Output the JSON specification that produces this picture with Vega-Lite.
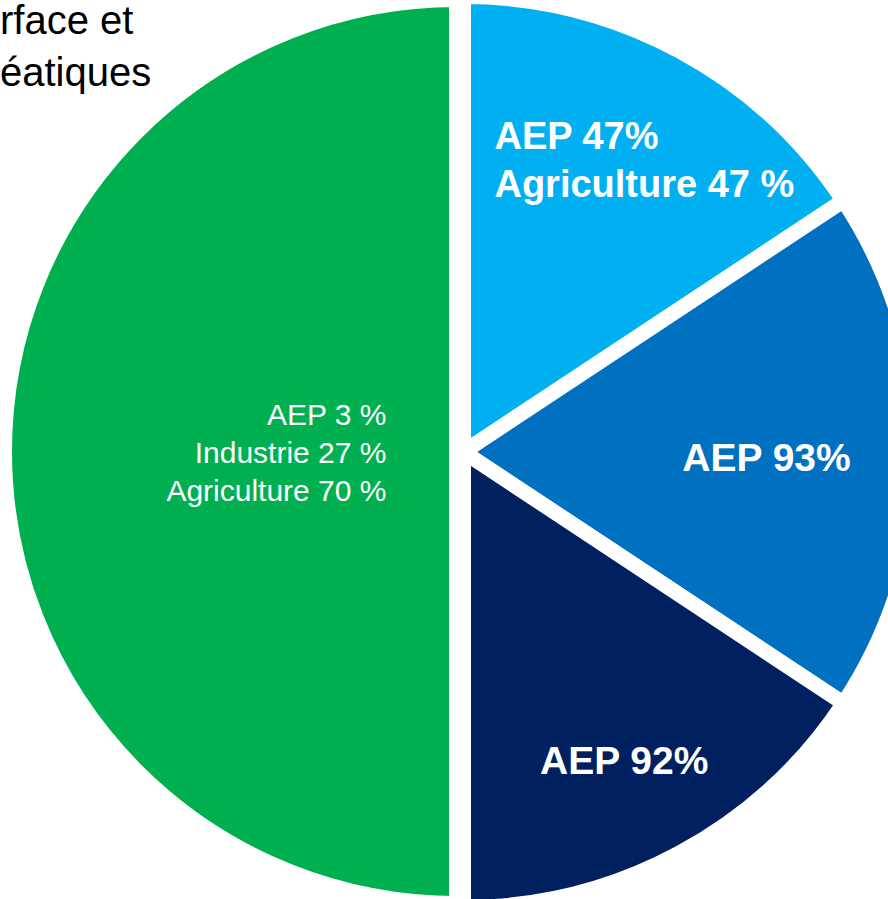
{
  "$schema": "https://vega.github.io/schema/vega-lite/v6.json",
  "width": 888,
  "height": 899,
  "autosize": {"type": "none"},
  "padding": 0,
  "background": "white",
  "view": {"stroke": null},
  "title": {
    "text": ["rface et", "éatiques"],
    "anchor": "start",
    "frame": "group",
    "orient": "top",
    "baseline": "top",
    "offset": -127,
    "fontSize": 40,
    "fontWeight": "normal",
    "font": "Liberation Sans",
    "color": "#000000",
    "lineHeight": 52
  },
  "data": {
    "values": [
      {"key": "lb", "order": 1, "value": 15.7, "label": "AEP 47%|Agriculture 47 %"},
      {"key": "mb", "order": 2, "value": 18.6, "label": "AEP 93%"},
      {"key": "nv", "order": 3, "value": 15.7, "label": "AEP 92%"},
      {"key": "gr", "order": 4, "value": 50, "label": "AEP 3 %|Industrie 27 %|Agriculture 70 %"}
    ]
  },
  "layer": [
    {
      "transform": [
        {"stack": "value", "groupby": [], "sort": [{"field": "order", "order": "ascending"}], "as": ["v0", "v1"]},
        {"filter": "datum.key == 'gr'"}
      ],
      "mark": {"type": "arc", "radius": 452, "stroke": "white", "strokeWidth": 15, "strokeJoin": "miter", "xOffset": 12.5, "yOffset": 2},
      "encoding": {
        "theta": {"field": "v0", "type": "quantitative", "scale": {"domain": [0, 100]}},
        "theta2": {"field": "v1"},
        "color": {"field": "key", "type": "nominal", "scale": {"domain": ["lb", "mb", "nv", "gr"], "range": ["#00B0F0", "#0070C0", "#002060", "#00B050"]}, "legend": null}
      }
    },
    {
      "transform": [
        {"stack": "value", "groupby": [], "sort": [{"field": "order", "order": "ascending"}], "as": ["v0", "v1"]},
        {"filter": "datum.key != 'gr'"}
      ],
      "mark": {"type": "arc", "radius": 455.5, "stroke": "white", "strokeWidth": 15, "strokeJoin": "miter", "xOffset": 19.5, "yOffset": 2.5},
      "encoding": {
        "theta": {"field": "v0", "type": "quantitative", "scale": {"domain": [0, 100]}},
        "theta2": {"field": "v1"},
        "color": {"field": "key", "type": "nominal", "legend": null}
      }
    },
    {
      "mark": {"type": "text", "radius": 331.5, "xOffset": 19.5, "yOffset": 2.5, "dx": -126, "dy": -22, "align": "left", "baseline": "middle", "font": "Liberation Sans", "fontSize": 38, "fontWeight": "bold", "lineHeight": 48, "lineBreak": "|", "fill": "white"},
      "encoding": {
        "theta": {"field": "value", "type": "quantitative", "stack": true, "scale": {"domain": [0, 100]}},
        "order": {"field": "order", "type": "quantitative"},
        "text": {"condition": {"test": "datum.key == 'lb'", "field": "label"}, "value": ""}
      }
    },
    {
      "mark": {"type": "text", "radius": 303, "xOffset": 19.5, "yOffset": 2.5, "dy": 7, "align": "center", "baseline": "middle", "font": "Liberation Sans", "fontSize": 39, "fontWeight": "bold", "fill": "white"},
      "encoding": {
        "theta": {"field": "value", "type": "quantitative", "stack": true, "scale": {"domain": [0, 100]}},
        "order": {"field": "order", "type": "quantitative"},
        "text": {"condition": {"test": "datum.key == 'mb'", "field": "label"}, "value": ""}
      }
    },
    {
      "mark": {"type": "text", "radius": 352, "xOffset": 19.5, "yOffset": 2.5, "dx": -6, "align": "center", "baseline": "middle", "font": "Liberation Sans", "fontSize": 39, "fontWeight": "bold", "fill": "white"},
      "encoding": {
        "theta": {"field": "value", "type": "quantitative", "stack": true, "scale": {"domain": [0, 100]}},
        "order": {"field": "order", "type": "quantitative"},
        "text": {"condition": {"test": "datum.key == 'nv'", "field": "label"}, "value": ""}
      }
    },
    {
      "mark": {"type": "text", "radius": 70, "xOffset": 12.5, "yOffset": 2, "dy": -36, "align": "right", "baseline": "middle", "font": "Liberation Sans", "fontSize": 30, "fontWeight": "normal", "lineHeight": 38, "lineBreak": "|", "fill": "white"},
      "encoding": {
        "theta": {"field": "value", "type": "quantitative", "stack": true, "scale": {"domain": [0, 100]}},
        "order": {"field": "order", "type": "quantitative"},
        "text": {"condition": {"test": "datum.key == 'gr'", "field": "label"}, "value": ""}
      }
    }
  ]
}
